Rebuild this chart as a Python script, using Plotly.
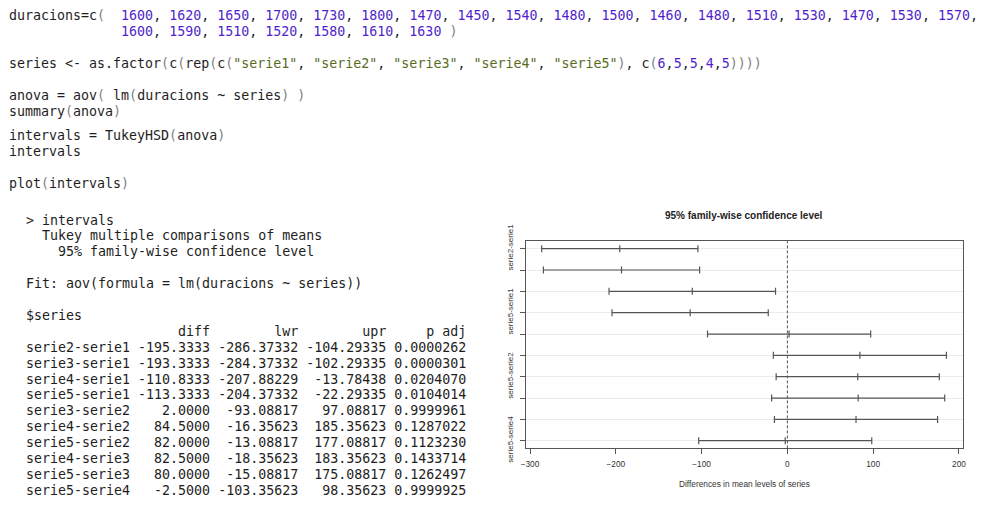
import re
import plotly.graph_objects as go

# data from the R session
durations = [1600, 1620, 1650, 1700, 1730, 1800, 1470, 1450, 1540, 1480, 1500, 1460, 1480,
             1510, 1530, 1470, 1530, 1570, 1600, 1590, 1510, 1520, 1580, 1610, 1630]
groups = ["serie1", "serie2", "serie3", "serie4", "serie5"]
group_sizes = [6, 5, 5, 4, 5]

comparisons = ["serie2-serie1", "serie3-serie1", "serie4-serie1", "serie5-serie1", "serie3-serie2",
               "serie4-serie2", "serie5-serie2", "serie4-serie3", "serie5-serie3", "serie5-serie4"]
diff = [-195.3333, -193.3333, -110.8333, -113.3333, 2.0, 84.5, 82.0, 82.5, 80.0, -2.5]
lwr = [-286.37332, -284.37332, -207.88229, -204.37332, -93.08817, -16.35623, -13.08817,
       -18.35623, -15.08817, -103.35623]
upr = [-104.29335, -102.29335, -13.78438, -22.29335, 97.08817, 185.35623, 177.08817,
       183.35623, 175.08817, 98.35623]
p_adj = [0.0000262, 0.0000301, 0.0204070, 0.0104014, 0.9999961, 0.1287022, 0.1123230,
         0.1433714, 0.1262497, 0.9999925]
x_ticks = [-300, -200, -100, 0, 100, 200]

# the page body has an 8px margin, so the figure is drawn 8px in from the window corner
OFF = 8
W, H = 996 - OFF, 509 - OFF
MONO = "DejaVu Sans Mono"
SANS = "Liberation Sans, Arial"
LINE = "#555555"


def px(x):
    return (x - OFF) / W


def py(y):
    return 1 - (y - OFF) / H


def nb(s):
    return s.replace(" ", "\u00a0")


def highlight(line):
    # crude R syntax colouring: strings, numbers, parentheses
    out = []
    for tok in re.split(r'("[^"]*"|\b\d+\b|[()])', line):
        if not tok:
            continue
        t = nb(tok.replace("<", "&lt;"))
        if tok.startswith('"'):
            out.append('<span style="color:#586d1f">' + t + "</span>")
        elif tok.isdigit():
            out.append('<span style="color:#4f1fcc">' + t + "</span>")
        elif tok in "()":
            out.append('<span style="color:#808080">' + t + "</span>")
        else:
            out.append(t)
    return "".join(out)


code_lines = [
    "duracions=c(  " + ", ".join(str(d) for d in durations[:18]) + ",",
    " " * 14 + ", ".join(str(d) for d in durations[18:]) + " )",
    "series <- as.factor(c(rep(c(" + ", ".join('"%s"' % g for g in groups) + "), c("
    + ",".join(str(s) for s in group_sizes) + "))))",
    "anova = aov( lm(duracions ~ series) )",
    "summary(anova)",
    "intervals = TukeyHSD(anova)",
    "intervals",
    "plot(intervals)",
]
code_y = [15.3, 31.7, 63.3, 96, 111.7, 136, 151.7, 183.3]

console_lines = [
    ("> intervals", 220),
    ("  Tukey multiple comparisons of means", 235.7),
    ("    95% family-wise confidence level", 251.7),
    ("Fit: aov(formula = lm(duracions ~ series))", 283.3),
    ("$series", 315.7),
    (" " * 13 + " %9s %10s %10s %9s" % ("diff", "lwr", "upr", "p adj"), 331.7),
]
for i, name in enumerate(comparisons):
    row = "%s %9.4f %10.5f %10.5f %.7f" % (name, diff[i], lwr[i], upr[i], p_adj[i])
    console_lines.append((row, 347.3 + 15.86 * i))

n = len(comparisons)
yvals = [n - i for i in range(n)]

fig = go.Figure()

seg_x, seg_y = [], []
for i in range(n):
    seg_x += [lwr[i], upr[i], None]
    seg_y += [yvals[i], yvals[i], None]
fig.add_trace(go.Scatter(x=seg_x, y=seg_y, mode="lines", line=dict(color=LINE, width=1.2),
                         hoverinfo="skip", showlegend=False))
fig.add_trace(go.Scatter(x=lwr + diff + upr, y=yvals * 3, mode="markers",
                         marker=dict(symbol="line-ns", size=5, line=dict(color=LINE, width=1.2)),
                         hoverinfo="skip", showlegend=False))

fig.add_shape(type="line", x0=0, x1=0, y0=0, y1=1, xref="x", yref="y domain",
              line=dict(color=LINE, width=1, dash="3px,2px"))

annotations = []
for text, y in zip(code_lines, code_y):
    annotations.append(dict(text=highlight(text), x=px(8), y=py(y), xref="paper", yref="paper",
                            xanchor="left", yanchor="middle", showarrow=False, borderpad=0,
                            font=dict(family=MONO, size=13.3, color="#1e1e1e")))
for text, y in console_lines:
    annotations.append(dict(text=nb(text), x=px(25), y=py(y), xref="paper", yref="paper",
                            xanchor="left", yanchor="middle", showarrow=False, borderpad=0,
                            font=dict(family=MONO, size=13.3, color="#1e1e1e")))
annotations.append(dict(text="<b>95% family-wise confidence level</b>", x=px(744), y=py(215),
                        xref="paper", yref="paper", xanchor="center", yanchor="middle",
                        showarrow=False, font=dict(family=SANS, size=10, color="#222222")))
annotations.append(dict(text="Differences in mean levels of series", x=px(744), y=py(484),
                        xref="paper", yref="paper", xanchor="center", yanchor="middle",
                        showarrow=False, font=dict(family=SANS, size=8.3, color="#333333")))

fig.update_layout(
    width=W, height=H, autosize=False,
    margin=dict(l=0, r=0, t=0, b=0, pad=0, autoexpand=False),
    paper_bgcolor="white", plot_bgcolor="white",
    annotations=annotations,
    xaxis=dict(domain=[px(525.5), px(962.6)], range=[-305.24, 204.23], automargin=False,
               tickvals=x_ticks, ticks="outside", ticklen=5, tickcolor=LINE,
               showline=True, mirror=True, linecolor=LINE, linewidth=1,
               showgrid=False, zeroline=False, ticklabelstandoff=3,
               tickfont=dict(family=SANS, size=8.3, color="#333333")),
    yaxis=dict(domain=[py(448.4), py(241)], range=[0.64, 10.36], automargin=False,
               tickvals=yvals,
               ticktext=[c if i % 3 == 0 else "" for i, c in enumerate(comparisons)],
               tickangle=-90, ticks="outside", ticklen=5, tickcolor=LINE,
               showline=True, mirror=True, linecolor=LINE, linewidth=1,
               showgrid=True, gridcolor="#ebebeb", gridwidth=1, zeroline=False,
               ticklabelstandoff=3,
               tickfont=dict(family=SANS, size=8, color="#333333")),
)

fig.write_html("out.html")
